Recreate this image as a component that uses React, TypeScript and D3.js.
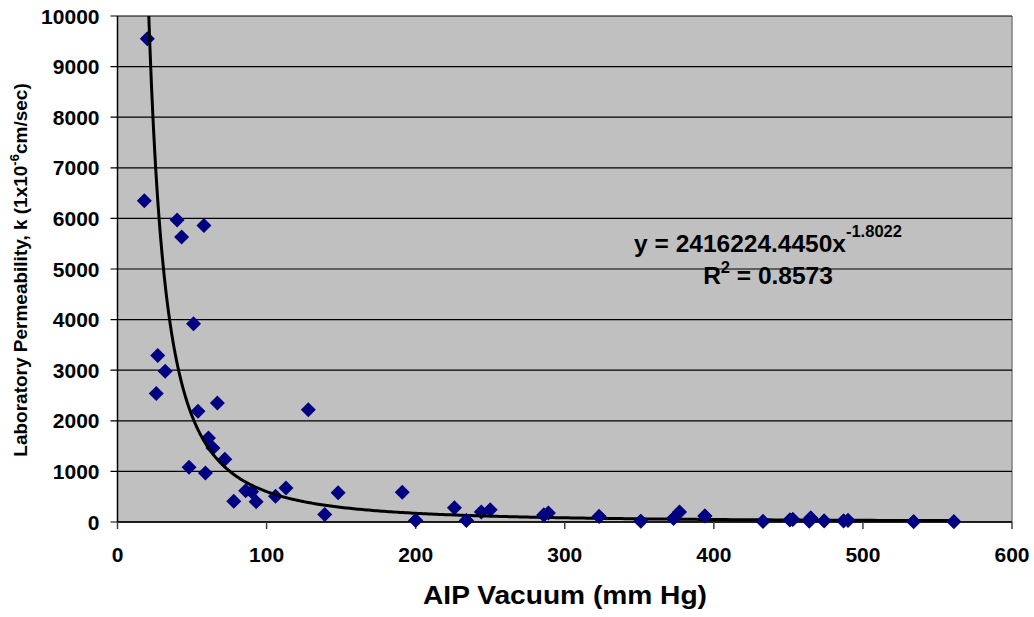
import React from "react";
import * as d3 from "d3";

const vacuum = [20, 18, 40, 43, 58, 51, 27, 32, 26, 54, 67, 128, 61, 64, 72, 48, 59, 78, 86, 90, 93, 106, 113, 139, 148, 191, 200, 226, 234, 244, 250, 286, 289, 323, 351, 373, 377, 394, 433, 451, 453, 464, 465, 474, 487, 490, 534, 561];
const permeability = [9550, 6350, 5970, 5630, 5860, 3920, 3290, 2980, 2540, 2190, 2350, 2220, 1660, 1460, 1240, 1080, 970, 410, 620, 600, 400, 510, 670, 150, 580, 590, 30, 280, 30, 200, 240, 140, 180, 110, 15, 70, 200, 120, 10, 40, 50, 15, 80, 20, 20, 30, 5, 5];
const xTicks = [0, 100, 200, 300, 400, 500, 600];
const yTicks = [0, 1000, 2000, 3000, 4000, 5000, 6000, 7000, 8000, 9000, 10000];
const coefA = 2416224.445;
const coefB = -1.8022;

export default function App() {
  const L = 117.5, R = 1012, T = 16, B = 522;
  const x = d3.scaleLinear().domain([0, 600]).range([L, R]);
  const y = d3.scaleLinear().domain([0, 10000]).range([B, T]);
  const xmin = d3.min(vacuum)!, xmax = d3.max(vacuum)!;
  const trendX = d3.range(0, 401).map(i => xmin * Math.pow(xmax / xmin, i / 400));
  const line = d3.line<number>().x(v => x(v)).y(v => y(coefA * Math.pow(v, coefB)));
  const s = 7.5;
  const font = "'Liberation Sans', Arial, sans-serif";
  const diamond = (cx: number, cy: number) => `M${cx},${cy - s}L${cx + s},${cy}L${cx},${cy + s}L${cx - s},${cy}Z`;
  return (
    <svg width={1034} height={617} style={{ position: "absolute", left: 0, top: 0, background: "#fff" }} fontFamily={font}>
      <defs>
        <clipPath id="plot"><rect x={L} y={T} width={R - L} height={B - T} /></clipPath>
      </defs>
      <rect x={L} y={T} width={R - L} height={B - T} fill="#c0c0c0" />
      <line x1={R} x2={R} y1={T} y2={B} stroke="#808080" strokeWidth={1.5} />
      {yTicks.map(t => (
        <g key={t}>
          <line x1={L - 7} x2={R} y1={y(t)} y2={y(t)} stroke="#000" strokeWidth={1.2} />
          <text x={99.5} y={y(t) + 7.5} textAnchor="end" fontSize={21} fontWeight="bold">{t}</text>
        </g>
      ))}
      <line x1={L} x2={L} y1={T} y2={B} stroke="#000" strokeWidth={1.5} />
      <line x1={L} x2={R} y1={B} y2={B} stroke="#000" strokeWidth={1.5} />
      {xTicks.map(t => (
        <g key={t}>
          <line x1={x(t)} x2={x(t)} y1={B} y2={B + 7} stroke="#404040" strokeWidth={1.5} />
          <text x={x(t)} y={562} textAnchor="middle" fontSize={21} fontWeight="bold">{t}</text>
        </g>
      ))}
      <g clipPath="url(#plot)">
        {vacuum.map((v, i) => (
          <path key={i} d={diamond(x(v), y(permeability[i]))} fill="#000080" />
        ))}
      </g>
      <g clipPath="url(#plot)">
        <path d={line(trendX)!} fill="none" stroke="#000" strokeWidth={3} />
      </g>
      {vacuum.map((v, i) => {
        const cx = x(v), cy = y(permeability[i]);
        if (cy + s <= B) return null;
        return <path key={"o" + i} d={diamond(cx, cy)} fill="#000080" />;
      })}
      <text x={768} y={252} textAnchor="middle" fontSize={24.5} fontWeight="bold">
        y = 2416224.4450x<tspan dy={-15} fontSize={16.5}>-1.8022</tspan>
      </text>
      <text x={768} y={284} textAnchor="middle" fontSize={24.5} fontWeight="bold">
        R<tspan dy={-11} fontSize={16.5}>2</tspan><tspan dy={11}> = 0.8573</tspan>
      </text>
      <text x={565} y={604} textAnchor="middle" fontSize={25.5} fontWeight="bold" textLength={284} lengthAdjust="spacingAndGlyphs">AIP Vacuum (mm Hg)</text>
      <text transform="translate(27,270) rotate(-90)" textAnchor="middle" fontSize={19} fontWeight="bold">
        Laboratory Permeability, k (1x10<tspan dy={-8} fontSize={13}>-6</tspan><tspan dy={8}>cm/sec)</tspan>
      </text>
    </svg>
  );
}
